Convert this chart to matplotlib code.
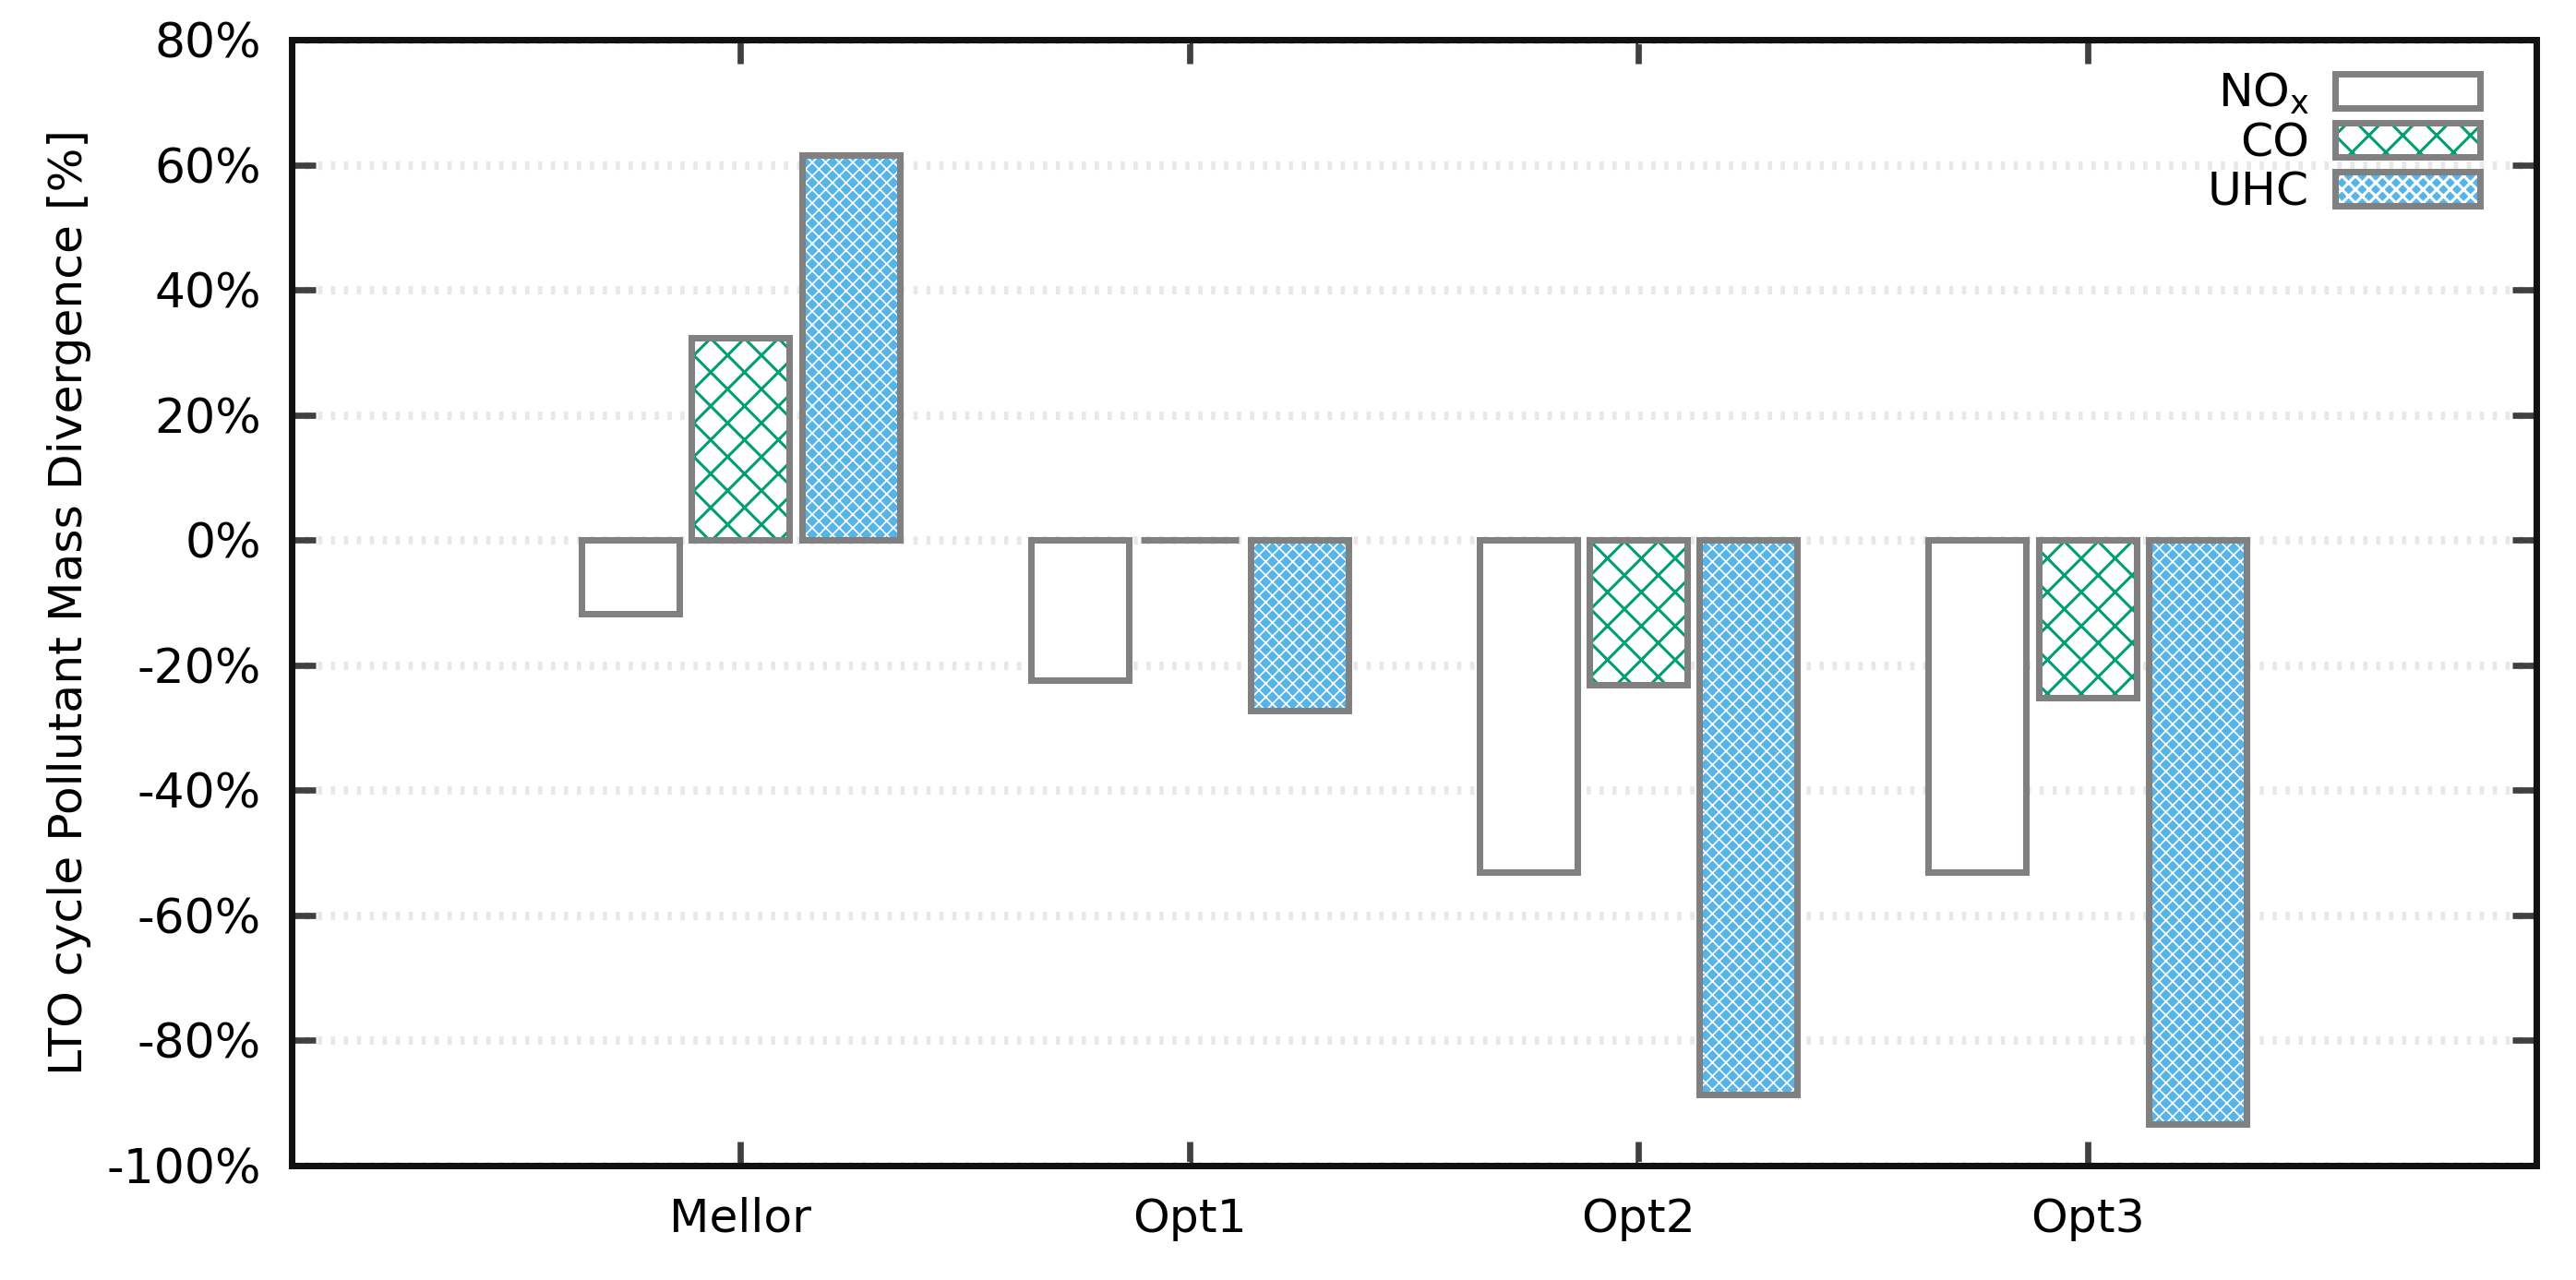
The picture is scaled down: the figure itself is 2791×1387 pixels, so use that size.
import numpy as np
import matplotlib
matplotlib.use('Agg')
import matplotlib.pyplot as plt
from matplotlib.legend_handler import HandlerTuple

# data (% divergence)
cases = ['Mellor', 'Opt1', 'Opt2', 'Opt3']
nox = [-11.8, -22.4, -53.1, -53.1]
co = [32.4, 0.0, -23.2, -25.2]
uhc = [61.5, -27.3, -88.6, -93.3]
yticks = np.arange(-100, 81, 20)

plt.rcParams['font.family'] = 'DejaVu Sans'
plt.rcParams['hatch.linewidth'] = 1.0

DPI = 220
fig = plt.figure(figsize=(2791 / DPI, 1387 / DPI), dpi=DPI)
ax = fig.add_axes([0.1132, 0.0894, 0.9846 - 0.1132, 0.969 - 0.0894])

x = np.arange(len(cases))
w = 0.218
step = 0.245

# name, values, face colour, hatch colour, hatch, hatch linewidth
series = [
    ('NO$_\\mathrm{x}$', nox, 'white', 'white', '', 1.0),
    ('CO', co, 'white', '#009e73', 'xx', 1.0),
    ('UHC', uhc, '#56b4e9', 'white', 'xxxxx', 0.55),
]

handles = []
for i, (name, vals, face, hc, h, hlw) in enumerate(series):
    pos = x + (i - 1) * step
    with plt.rc_context({'hatch.linewidth': hlw}):
        fill = ax.bar(pos, vals, w, color=face, edgecolor=hc, hatch=h, linewidth=0, zorder=2)
    edge = ax.bar(pos, vals, w, fill=False, edgecolor='#808080', linewidth=2.3, zorder=3)
    handles.append((fill[0], edge[0]))

ax.legend(handles, [s[0] for s in series], loc='upper right', bbox_to_anchor=(0.975, 0.972),
          markerfirst=False, frameon=False, fontsize=16.5, handlelength=3.12, handleheight=0.75,
          handletextpad=0.55, labelspacing=0.1, borderpad=0, borderaxespad=0,
          handler_map={tuple: HandlerTuple()})

ax.set_xlim(-1, 4)
ax.set_ylim(-100, 80)
ax.set_xticks(x, cases)
ax.set_yticks(yticks, [f'{v}%' for v in yticks])
ax.tick_params(direction='in', top=True, right=True, length=8.5, width=2.2, color='#404040',
               labelsize=17, pad=10.8)
ax.tick_params(axis='x', labelsize=16.5, pad=11)
for s in ax.spines.values():
    s.set_linewidth(2.3)
    s.set_color('#111111')

ax.yaxis.grid(True, color='#e8e8e8', linewidth=3, linestyle=(0, (0.5, 1.03)))
ax.set_axisbelow(True)

ax.set_ylabel('LTO cycle Pollutant Mass Divergence [%]', fontsize=16.5)
ax.yaxis.set_label_coords(-0.0892, 0.5)

fig.savefig('out.png', dpi=DPI)
